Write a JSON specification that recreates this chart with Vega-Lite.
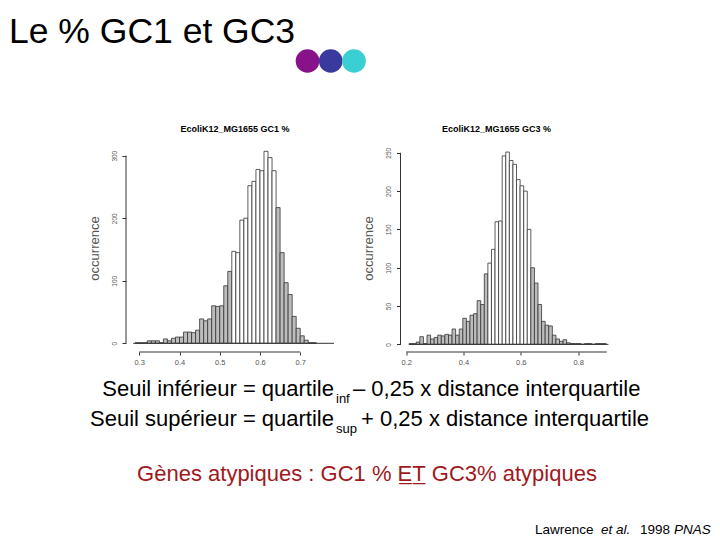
{
  "$schema": "https://vega.github.io/schema/vega-lite/v6.json",
  "padding": {"left": 0, "top": 14, "right": 0, "bottom": 0},
  "background": "white",
  "title": {"text": "Le % GC1 et GC3", "anchor": "start", "fontSize": 35.5, "font": "Liberation Sans", "fontWeight": "normal", "color": "#000000", "dx": 9, "offset": -29, "baseline": "alphabetic"},
  "spacing": 52,
  "config": {
    "view": {"stroke": null},
    "font": "Liberation Sans",
    "axis": {"grid": false, "domain": false, "labelFont": "Liberation Sans", "titleFont": "Liberation Sans", "tickColor": "#333333", "labelColor": "#555555"}
  },
  "vconcat": [
    {
      "width": 720,
      "height": 24,
      "data": {"values": [{"couleur": "violet"}, {"couleur": "bleu"}, {"couleur": "turquoise"}]},
      "mark": {"type": "circle", "size": 560, "opacity": 1},
      "encoding": {
        "x": {"field": "couleur", "type": "nominal", "sort": null, "scale": {"type": "point", "domain": ["violet", "bleu", "turquoise"], "range": [307.5, 354], "padding": 0}, "axis": null},
        "color": {"field": "couleur", "type": "nominal", "scale": {"domain": ["violet", "bleu", "turquoise"], "range": ["#88128A", "#3A3A9E", "#3ACFD2"]}, "legend": null}
      }
    },
    {
      "spacing": 0,
      "vconcat": [
        {
          "spacing": 0,
          "hconcat": [
            {
              "width": 88,
              "height": 1,
              "data": {"values": []},
              "mark": "point"
            },
            {
              "spacing": 26.5,
              "hconcat": [
                {
                  "width": 208,
                  "height": 208,
                  "title": {"text": "EcoliK12_MG1655 GC1 %", "fontSize": 9, "fontWeight": "bold", "font": "Liberation Sans", "offset": 10, "dx": 5},
                  "layer": [
                    {
                      "data": {"values": [
                        {"x0": 0.29, "x1": 0.30, "n": 1, "classe": "atypique"},
                        {"x0": 0.30, "x1": 0.31, "n": 1, "classe": "atypique"},
                        {"x0": 0.31, "x1": 0.32, "n": 1, "classe": "atypique"},
                        {"x0": 0.32, "x1": 0.33, "n": 4, "classe": "atypique"},
                        {"x0": 0.33, "x1": 0.34, "n": 4, "classe": "atypique"},
                        {"x0": 0.34, "x1": 0.35, "n": 4, "classe": "atypique"},
                        {"x0": 0.35, "x1": 0.36, "n": 1, "classe": "atypique"},
                        {"x0": 0.36, "x1": 0.37, "n": 7, "classe": "atypique"},
                        {"x0": 0.37, "x1": 0.38, "n": 4, "classe": "atypique"},
                        {"x0": 0.38, "x1": 0.39, "n": 8, "classe": "atypique"},
                        {"x0": 0.39, "x1": 0.40, "n": 10, "classe": "atypique"},
                        {"x0": 0.40, "x1": 0.41, "n": 10, "classe": "atypique"},
                        {"x0": 0.41, "x1": 0.42, "n": 18, "classe": "atypique"},
                        {"x0": 0.42, "x1": 0.43, "n": 18, "classe": "atypique"},
                        {"x0": 0.43, "x1": 0.44, "n": 17, "classe": "atypique"},
                        {"x0": 0.44, "x1": 0.45, "n": 21, "classe": "atypique"},
                        {"x0": 0.45, "x1": 0.46, "n": 39, "classe": "atypique"},
                        {"x0": 0.46, "x1": 0.47, "n": 36, "classe": "atypique"},
                        {"x0": 0.47, "x1": 0.48, "n": 39, "classe": "atypique"},
                        {"x0": 0.48, "x1": 0.49, "n": 60, "classe": "atypique"},
                        {"x0": 0.49, "x1": 0.50, "n": 59, "classe": "atypique"},
                        {"x0": 0.50, "x1": 0.51, "n": 60, "classe": "atypique"},
                        {"x0": 0.51, "x1": 0.52, "n": 92, "classe": "atypique"},
                        {"x0": 0.52, "x1": 0.53, "n": 115, "classe": "atypique"},
                        {"x0": 0.53, "x1": 0.54, "n": 147, "classe": "typique"},
                        {"x0": 0.54, "x1": 0.55, "n": 145, "classe": "typique"},
                        {"x0": 0.55, "x1": 0.56, "n": 197, "classe": "typique"},
                        {"x0": 0.56, "x1": 0.57, "n": 200, "classe": "typique"},
                        {"x0": 0.57, "x1": 0.58, "n": 252, "classe": "typique"},
                        {"x0": 0.58, "x1": 0.59, "n": 259, "classe": "typique"},
                        {"x0": 0.59, "x1": 0.60, "n": 278, "classe": "typique"},
                        {"x0": 0.60, "x1": 0.61, "n": 276, "classe": "typique"},
                        {"x0": 0.61, "x1": 0.62, "n": 307, "classe": "typique"},
                        {"x0": 0.62, "x1": 0.63, "n": 297, "classe": "typique"},
                        {"x0": 0.63, "x1": 0.64, "n": 276, "classe": "typique"},
                        {"x0": 0.64, "x1": 0.65, "n": 217, "classe": "atypique"},
                        {"x0": 0.65, "x1": 0.66, "n": 145, "classe": "atypique"},
                        {"x0": 0.66, "x1": 0.67, "n": 97, "classe": "atypique"},
                        {"x0": 0.67, "x1": 0.68, "n": 78, "classe": "atypique"},
                        {"x0": 0.68, "x1": 0.69, "n": 43, "classe": "atypique"},
                        {"x0": 0.69, "x1": 0.70, "n": 24, "classe": "atypique"},
                        {"x0": 0.70, "x1": 0.71, "n": 12, "classe": "atypique"},
                        {"x0": 0.71, "x1": 0.72, "n": 5, "classe": "atypique"},
                        {"x0": 0.72, "x1": 0.73, "n": 1, "classe": "atypique"},
                        {"x0": 0.73, "x1": 0.74, "n": 1, "classe": "atypique"}
                      ]},
                      "mark": {"type": "bar", "stroke": "#333333", "strokeWidth": 0.8},
                      "encoding": {
                        "x": {"field": "x0", "type": "quantitative", "scale": {"domain": [0.267, 0.784], "nice": false, "zero": false},
                              "axis": {"values": [0.3, 0.4, 0.5, 0.6, 0.7], "format": ".1f", "title": null, "tickSize": 3, "labelFontSize": 7.5, "labelPadding": 3}},
                        "x2": {"field": "x1"},
                        "y": {"field": "n", "type": "quantitative", "scale": {"domain": [-13.9, 318.7], "nice": false, "zero": false},
                              "axis": {"values": [0, 50, 100, 150, 200, 250, 300], "title": "occurrence", "titleFontSize": 13, "titleFontWeight": "normal", "titleColor": "#555555", "titlePadding": 10, "tickSize": 4, "labelFontSize": 6.5, "labelAngle": 270, "labelPadding": 5}},
                        "y2": {"datum": 0},
                        "fill": {"field": "classe", "type": "nominal", "scale": {"domain": ["atypique", "typique"], "range": ["#bdbdbd", "#ffffff"]}, "legend": null}
                      }
                    },
                    {
                      "data": {"values": [{}]},
                      "mark": {"type": "rule", "color": "#333333", "strokeWidth": 1},
                      "encoding": {"x": {"datum": 0.285}, "x2": {"datum": 0.784}, "y": {"datum": 0}}
                    },
                    {
                      "data": {"values": [{}]},
                      "mark": {"type": "rule", "color": "#333333", "strokeWidth": 1},
                      "encoding": {"x": {"datum": 0.267}, "y": {"datum": 0}, "y2": {"datum": 300}}
                    },
                    {
                      "data": {"values": [{}]},
                      "mark": {"type": "rule", "color": "#333333", "strokeWidth": 1},
                      "encoding": {"x": {"datum": 0.3}, "x2": {"datum": 0.7}, "y": {"datum": -13.9}}
                    }
                  ]
                },
                {
                  "width": 212,
                  "height": 208,
                  "title": {"text": "EcoliK12_MG1655 GC3 %", "fontSize": 9, "fontWeight": "bold", "font": "Liberation Sans", "offset": 10, "dx": -10},
                  "layer": [
                    {
                      "data": {"values": [
                        {"x0": 0.21, "x1": 0.2225, "n": 1, "classe": "atypique"},
                        {"x0": 0.2225, "x1": 0.235, "n": 1, "classe": "atypique"},
                        {"x0": 0.235, "x1": 0.2475, "n": 3, "classe": "atypique"},
                        {"x0": 0.2475, "x1": 0.26, "n": 10, "classe": "atypique"},
                        {"x0": 0.26, "x1": 0.2725, "n": 1, "classe": "atypique"},
                        {"x0": 0.2725, "x1": 0.285, "n": 12, "classe": "atypique"},
                        {"x0": 0.285, "x1": 0.2975, "n": 7, "classe": "atypique"},
                        {"x0": 0.2975, "x1": 0.31, "n": 9, "classe": "atypique"},
                        {"x0": 0.31, "x1": 0.3225, "n": 12, "classe": "atypique"},
                        {"x0": 0.3225, "x1": 0.335, "n": 11, "classe": "atypique"},
                        {"x0": 0.335, "x1": 0.3475, "n": 13, "classe": "atypique"},
                        {"x0": 0.3475, "x1": 0.36, "n": 12, "classe": "atypique"},
                        {"x0": 0.36, "x1": 0.3725, "n": 20, "classe": "atypique"},
                        {"x0": 0.3725, "x1": 0.385, "n": 12, "classe": "atypique"},
                        {"x0": 0.385, "x1": 0.3975, "n": 20, "classe": "atypique"},
                        {"x0": 0.3975, "x1": 0.41, "n": 34, "classe": "atypique"},
                        {"x0": 0.41, "x1": 0.4225, "n": 30, "classe": "atypique"},
                        {"x0": 0.4225, "x1": 0.435, "n": 38, "classe": "atypique"},
                        {"x0": 0.435, "x1": 0.4475, "n": 40, "classe": "atypique"},
                        {"x0": 0.4475, "x1": 0.46, "n": 57, "classe": "atypique"},
                        {"x0": 0.46, "x1": 0.4725, "n": 52, "classe": "atypique"},
                        {"x0": 0.4725, "x1": 0.485, "n": 92, "classe": "atypique"},
                        {"x0": 0.485, "x1": 0.4975, "n": 106, "classe": "typique"},
                        {"x0": 0.4975, "x1": 0.51, "n": 124, "classe": "typique"},
                        {"x0": 0.51, "x1": 0.5225, "n": 160, "classe": "typique"},
                        {"x0": 0.5225, "x1": 0.535, "n": 161, "classe": "typique"},
                        {"x0": 0.535, "x1": 0.5475, "n": 246, "classe": "typique"},
                        {"x0": 0.5475, "x1": 0.56, "n": 251, "classe": "typique"},
                        {"x0": 0.56, "x1": 0.5725, "n": 240, "classe": "typique"},
                        {"x0": 0.5725, "x1": 0.585, "n": 235, "classe": "typique"},
                        {"x0": 0.585, "x1": 0.5975, "n": 215, "classe": "typique"},
                        {"x0": 0.5975, "x1": 0.61, "n": 207, "classe": "typique"},
                        {"x0": 0.61, "x1": 0.6225, "n": 200, "classe": "typique"},
                        {"x0": 0.6225, "x1": 0.635, "n": 150, "classe": "typique"},
                        {"x0": 0.635, "x1": 0.6475, "n": 100, "classe": "atypique"},
                        {"x0": 0.6475, "x1": 0.66, "n": 80, "classe": "atypique"},
                        {"x0": 0.66, "x1": 0.6725, "n": 52, "classe": "atypique"},
                        {"x0": 0.6725, "x1": 0.685, "n": 30, "classe": "atypique"},
                        {"x0": 0.685, "x1": 0.6975, "n": 25, "classe": "atypique"},
                        {"x0": 0.6975, "x1": 0.71, "n": 24, "classe": "atypique"},
                        {"x0": 0.71, "x1": 0.7225, "n": 12, "classe": "atypique"},
                        {"x0": 0.7225, "x1": 0.735, "n": 7, "classe": "atypique"},
                        {"x0": 0.735, "x1": 0.7475, "n": 4, "classe": "atypique"},
                        {"x0": 0.7475, "x1": 0.76, "n": 6, "classe": "atypique"},
                        {"x0": 0.76, "x1": 0.7725, "n": 2, "classe": "atypique"},
                        {"x0": 0.7725, "x1": 0.785, "n": 1, "classe": "atypique"},
                        {"x0": 0.785, "x1": 0.7975, "n": 1, "classe": "atypique"},
                        {"x0": 0.7975, "x1": 0.81, "n": 1, "classe": "atypique"},
                        {"x0": 0.81, "x1": 0.8225, "n": 0, "classe": "atypique"},
                        {"x0": 0.8225, "x1": 0.835, "n": 1, "classe": "atypique"},
                        {"x0": 0.835, "x1": 0.8475, "n": 1, "classe": "atypique"},
                        {"x0": 0.8475, "x1": 0.86, "n": 0, "classe": "atypique"},
                        {"x0": 0.86, "x1": 0.8725, "n": 1, "classe": "atypique"},
                        {"x0": 0.8725, "x1": 0.885, "n": 1, "classe": "atypique"},
                        {"x0": 0.885, "x1": 0.8975, "n": 1, "classe": "atypique"}
                      ]},
                      "mark": {"type": "bar", "stroke": "#333333", "strokeWidth": 0.8},
                      "encoding": {
                        "x": {"field": "x0", "type": "quantitative", "scale": {"domain": [0.18, 0.92], "nice": false, "zero": false},
                              "axis": {"values": [0.2, 0.3, 0.4, 0.5, 0.6, 0.7, 0.8, 0.9], "format": ".1f", "title": null, "tickSize": 3, "labelFontSize": 7.5, "labelPadding": 3}},
                        "x2": {"field": "x1"},
                        "y": {"field": "n", "type": "quantitative", "scale": {"domain": [-10, 261.5], "nice": false, "zero": false},
                              "axis": {"values": [0, 50, 100, 150, 200, 250], "title": "occurrence", "titleFontSize": 13, "titleFontWeight": "normal", "titleColor": "#555555", "titlePadding": 10, "tickSize": 4, "labelFontSize": 6.5, "labelAngle": 270, "labelPadding": 5}},
                        "y2": {"datum": 0},
                        "fill": {"field": "classe", "type": "nominal", "scale": {"domain": ["atypique", "typique"], "range": ["#bdbdbd", "#ffffff"]}, "legend": null}
                      }
                    },
                    {
                      "data": {"values": [{}]},
                      "mark": {"type": "rule", "color": "#333333", "strokeWidth": 1},
                      "encoding": {"x": {"datum": 0.209}, "x2": {"datum": 0.906}, "y": {"datum": 0}}
                    },
                    {
                      "data": {"values": [{}]},
                      "mark": {"type": "rule", "color": "#333333", "strokeWidth": 1},
                      "encoding": {"x": {"datum": 0.18}, "y": {"datum": 0}, "y2": {"datum": 250}}
                    },
                    {
                      "data": {"values": [{}]},
                      "mark": {"type": "rule", "color": "#333333", "strokeWidth": 1},
                      "encoding": {"x": {"datum": 0.2}, "x2": {"datum": 0.9}, "y": {"datum": -10}}
                    }
                  ]
                }
              ]
            }
          ]
        },
        {
          "width": 720,
          "height": 170,
          "layer": [
            {"data": {"values": [{"texte": "Seuil inférieur = quartile"}]},
             "mark": {"type": "text", "align": "right", "baseline": "alphabetic", "fontSize": 22, "dx": -26, "dy": -55, "color": "#000000"},
             "encoding": {"text": {"field": "texte", "type": "nominal"}}},
            {"data": {"values": [{"texte": "inf"}]},
             "mark": {"type": "text", "align": "left", "baseline": "alphabetic", "fontSize": 13, "dx": -24, "dy": -48, "color": "#000000"},
             "encoding": {"text": {"field": "texte", "type": "nominal"}}},
            {"data": {"values": [{"texte": "– 0,25 x distance interquartile"}]},
             "mark": {"type": "text", "align": "left", "baseline": "alphabetic", "fontSize": 22, "dx": -7, "dy": -55, "color": "#000000"},
             "encoding": {"text": {"field": "texte", "type": "nominal"}}},
            {"data": {"values": [{"texte": "Seuil supérieur = quartile"}]},
             "mark": {"type": "text", "align": "right", "baseline": "alphabetic", "fontSize": 22, "dx": -26, "dy": -25, "color": "#000000"},
             "encoding": {"text": {"field": "texte", "type": "nominal"}}},
            {"data": {"values": [{"texte": "sup"}]},
             "mark": {"type": "text", "align": "left", "baseline": "alphabetic", "fontSize": 13, "dx": -24, "dy": -18, "color": "#000000"},
             "encoding": {"text": {"field": "texte", "type": "nominal"}}},
            {"data": {"values": [{"texte": "+ 0,25 x distance interquartile"}]},
             "mark": {"type": "text", "align": "left", "baseline": "alphabetic", "fontSize": 22, "dx": 1, "dy": -25, "color": "#000000"},
             "encoding": {"text": {"field": "texte", "type": "nominal"}}},
            {"data": {"values": [{"texte": "Gènes atypiques : GC1 % E̲T̲ GC3% atypiques"}]},
             "mark": {"type": "text", "align": "center", "baseline": "alphabetic", "fontSize": 22, "dx": 7, "dy": 30, "color": "#A01820"},
             "encoding": {"text": {"field": "texte", "type": "nominal"}}},
            {"data": {"values": [{"texte": "Lawrence"}]},
             "mark": {"type": "text", "align": "left", "baseline": "alphabetic", "fontSize": 13.5, "dx": 175, "dy": 83, "color": "#000000"},
             "encoding": {"text": {"field": "texte", "type": "nominal"}}},
            {"data": {"values": [{"texte": "et al."}]},
             "mark": {"type": "text", "align": "left", "baseline": "alphabetic", "fontSize": 13.5, "fontStyle": "italic", "dx": 241, "dy": 83, "color": "#000000"},
             "encoding": {"text": {"field": "texte", "type": "nominal"}}},
            {"data": {"values": [{"texte": "1998"}]},
             "mark": {"type": "text", "align": "left", "baseline": "alphabetic", "fontSize": 13.5, "dx": 280, "dy": 83, "color": "#000000"},
             "encoding": {"text": {"field": "texte", "type": "nominal"}}},
            {"data": {"values": [{"texte": "PNAS"}]},
             "mark": {"type": "text", "align": "left", "baseline": "alphabetic", "fontSize": 13.5, "fontStyle": "italic", "dx": 314, "dy": 83, "color": "#000000"},
             "encoding": {"text": {"field": "texte", "type": "nominal"}}}
          ]
        }
      ]
    }
  ]
}
